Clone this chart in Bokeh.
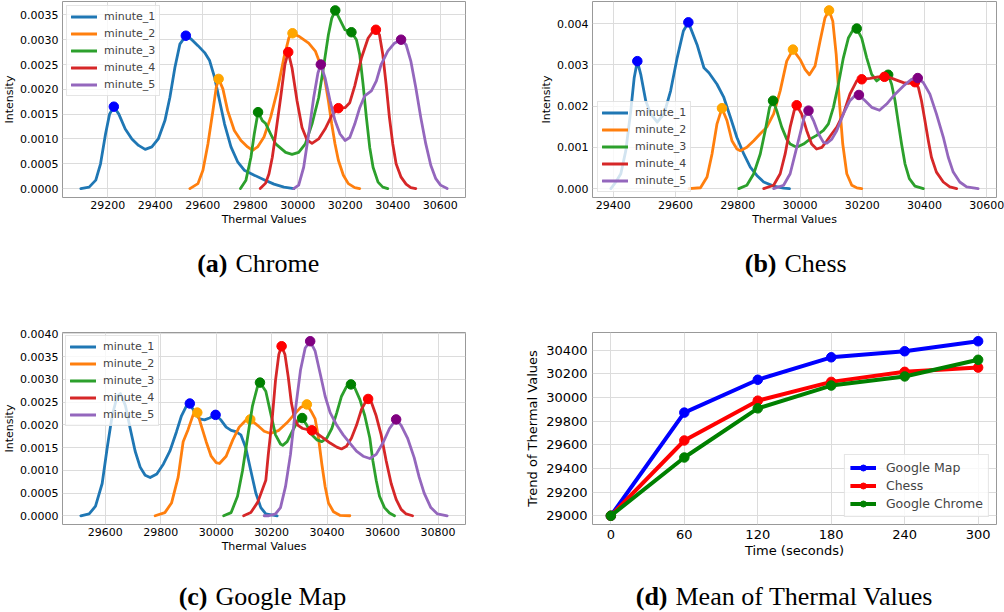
from bokeh.plotting import figure
from bokeh.models import Range1d, FixedTicker, NumeralTickFormatter, Legend, LegendItem
from bokeh.layouts import column, row
from bokeh.embed import file_html
from bokeh.resources import INLINE
from bokeh.core.properties import value

# ---------------- data ----------------
SERIES = ["minute_1", "minute_2", "minute_3", "minute_4", "minute_5"]

# (a) Chrome : KDE curves
a1_x = [29087, 29122, 29150, 29170, 29191, 29208, 29226, 29247, 29274, 29302, 29330, 29358, 29386, 29413, 29441, 29462, 29483, 29504, 29529, 29552, 29580, 29608, 29629, 29650, 29671, 29692, 29719, 29747, 29775, 29817, 29858, 29900, 29942, 29984]
a1_y = [0, 0.00003, 0.00017, 0.0005, 0.0011, 0.0015, 0.00165, 0.0015, 0.0012, 0.001, 0.00087, 0.00079, 0.00084, 0.001, 0.00137, 0.00184, 0.00244, 0.00291, 0.00308, 0.00301, 0.00288, 0.00274, 0.00258, 0.00224, 0.00177, 0.0013, 0.00084, 0.00054, 0.00037, 0.00027, 0.00018, 0.00009, 0.00003, 0]
a2_x = [29546, 29580, 29601, 29622, 29643, 29657, 29667, 29685, 29705, 29733, 29761, 29789, 29810, 29831, 29858, 29886, 29914, 29942, 29963, 29978, 30004, 30046, 30074, 30101, 30115, 30129, 30143, 30157, 30171, 30192, 30213, 30240, 30261]
a2_y = [0, 0.0001, 0.00037, 0.0009, 0.00157, 0.00204, 0.00221, 0.00201, 0.00157, 0.00117, 0.00097, 0.00084, 0.00077, 0.00084, 0.00104, 0.00144, 0.00197, 0.00264, 0.00304, 0.00313, 0.00307, 0.00293, 0.00277, 0.00243, 0.00217, 0.00177, 0.0013, 0.0009, 0.00057, 0.00027, 0.0001, 0.00002, 0]
a3_x = [29759, 29782, 29803, 29817, 29833, 29851, 29865, 29886, 29907, 29949, 29976, 30004, 30032, 30060, 30088, 30108, 30129, 30143, 30158, 30178, 30199, 30226, 30247, 30261, 30275, 30289, 30303, 30317, 30338, 30358, 30379]
a3_y = [0, 0.00017, 0.00063, 0.0011, 0.00154, 0.00137, 0.00131, 0.0011, 0.0009, 0.00073, 0.00069, 0.00073, 0.0009, 0.0013, 0.00183, 0.00243, 0.0031, 0.00343, 0.00359, 0.0034, 0.0032, 0.00315, 0.003, 0.0027, 0.0021, 0.00143, 0.00083, 0.00043, 0.00013, 0.00003, 0]
a4_x = [29842, 29865, 29879, 29893, 29907, 29928, 29946, 29960, 29976, 29997, 30018, 30039, 30060, 30088, 30115, 30143, 30171, 30199, 30219, 30240, 30268, 30296, 30317, 30329, 30344, 30358, 30372, 30386, 30400, 30414, 30435, 30456, 30476, 30497]
a4_y = [0, 0.00011, 0.0003, 0.00063, 0.0011, 0.00183, 0.0025, 0.00275, 0.00243, 0.00177, 0.00123, 0.00098, 0.00091, 0.001, 0.0012, 0.00147, 0.00162, 0.00163, 0.00173, 0.00207, 0.00263, 0.00303, 0.00317, 0.0032, 0.0031, 0.0027, 0.0021, 0.00143, 0.0009, 0.0005, 0.00023, 0.00009, 0.00002, 0]
a5_x = [29983, 30004, 30025, 30046, 30067, 30085, 30097, 30115, 30136, 30157, 30178, 30199, 30219, 30240, 30261, 30282, 30310, 30331, 30351, 30379, 30407, 30435, 30456, 30476, 30497, 30518, 30539, 30560, 30581, 30601, 30629]
a5_y = [0, 0.00007, 0.00043, 0.0011, 0.00183, 0.00233, 0.0025, 0.00223, 0.00177, 0.00137, 0.0011, 0.00097, 0.00103, 0.0013, 0.00163, 0.00187, 0.00197, 0.00217, 0.0025, 0.00277, 0.00293, 0.003, 0.0029, 0.00257, 0.00203, 0.00143, 0.0009, 0.00047, 0.0002, 0.00007, 0]
# (a) peaks
a1_px, a1_py = [29226, 29529], [0.00165, 0.00308]
a2_px, a2_py = [29667, 29978], [0.00221, 0.00313]
a3_px, a3_py = [29833, 30158, 30226], [0.00154, 0.00359, 0.00315]
a4_px, a4_py = [29960, 30171, 30329], [0.00275, 0.00162, 0.0032]
a5_px, a5_py = [30097, 30435], [0.0025, 0.003]

# (b) Chess : KDE curves
b1_x = [29392, 29408, 29424, 29440, 29456, 29467, 29477, 29488, 29504, 29520, 29541, 29563, 29584, 29605, 29625, 29641, 29669, 29691, 29707, 29733, 29755, 29776, 29797, 29819, 29840, 29861, 29883, 29915, 29947, 29966]
b1_y = [0, 0.00016, 0.00036, 0.00092, 0.00189, 0.00269, 0.00309, 0.00277, 0.00213, 0.00181, 0.00161, 0.00181, 0.00237, 0.00317, 0.00382, 0.00403, 0.00349, 0.00293, 0.00281, 0.00253, 0.00221, 0.00173, 0.00124, 0.00084, 0.00052, 0.00032, 0.00016, 0.00006, 0.00001, 0]
b2_x = [29643, 29680, 29701, 29717, 29733, 29749, 29765, 29781, 29797, 29808, 29829, 29851, 29872, 29893, 29915, 29936, 29957, 29977, 30000, 30016, 30030, 30048, 30064, 30080, 30093, 30105, 30116, 30126, 30137, 30150, 30166, 30182, 30198]
b2_y = [0, 0.00002, 0.00028, 0.00084, 0.00157, 0.00195, 0.00165, 0.00116, 0.00096, 0.00092, 0.001, 0.00116, 0.00133, 0.00149, 0.00181, 0.00237, 0.00309, 0.00337, 0.00313, 0.00289, 0.00276, 0.00297, 0.00357, 0.00414, 0.00432, 0.00406, 0.00325, 0.00213, 0.00108, 0.00036, 0.00008, 0.00002, 0]
b3_x = [29803, 29829, 29851, 29872, 29888, 29902, 29913, 29925, 29941, 29957, 29968, 29989, 30011, 30032, 30053, 30075, 30091, 30107, 30123, 30139, 30155, 30171, 30182, 30198, 30214, 30230, 30246, 30267, 30283, 30294, 30305, 30316, 30326, 30337, 30351, 30369, 30396]
b3_y = [0, 0.00008, 0.00036, 0.00084, 0.00141, 0.00197, 0.00213, 0.00189, 0.00149, 0.0012, 0.00108, 0.001, 0.00108, 0.0012, 0.00129, 0.00141, 0.00157, 0.00197, 0.00253, 0.00317, 0.00365, 0.00386, 0.00388, 0.00365, 0.00317, 0.00277, 0.00261, 0.00273, 0.00276, 0.00253, 0.00213, 0.00157, 0.00108, 0.0006, 0.00024, 0.00006, 0]
b4_x = [29883, 29915, 29936, 29952, 29968, 29981, 29989, 30005, 30021, 30037, 30053, 30070, 30086, 30102, 30118, 30139, 30160, 30182, 30198, 30225, 30251, 30271, 30289, 30310, 30332, 30348, 30369, 30380, 30390, 30401, 30412, 30422, 30438, 30460, 30481, 30503]
b4_y = [0, 0.00008, 0.00036, 0.00084, 0.00149, 0.00189, 0.00202, 0.00181, 0.00141, 0.00108, 0.00096, 0.001, 0.00116, 0.00133, 0.00149, 0.00181, 0.00229, 0.00261, 0.00265, 0.00267, 0.00271, 0.00271, 0.00269, 0.00263, 0.00257, 0.00255, 0.00258, 0.00245, 0.00213, 0.00165, 0.00116, 0.00076, 0.0004, 0.00016, 0.00004, 0]
b5_x = [29915, 29947, 29968, 29984, 30000, 30013, 30027, 30043, 30059, 30075, 30086, 30102, 30118, 30139, 30160, 30176, 30189, 30209, 30230, 30255, 30278, 30305, 30332, 30358, 30378, 30396, 30417, 30438, 30460, 30476, 30492, 30513, 30535, 30572]
b5_y = [0, 0.00008, 0.00036, 0.00084, 0.00133, 0.00173, 0.00189, 0.00165, 0.00133, 0.00112, 0.0011, 0.0012, 0.00141, 0.00181, 0.00213, 0.00225, 0.00227, 0.00213, 0.00197, 0.0019, 0.00205, 0.00229, 0.00249, 0.00265, 0.00268, 0.00257, 0.00229, 0.00181, 0.00125, 0.00076, 0.0004, 0.00016, 0.00004, 0]
# (b) peaks
b1_px, b1_py = [29477, 29641], [0.00309, 0.00403]
b2_px, b2_py = [29749, 29977, 30093], [0.00195, 0.00337, 0.00432]
b3_px, b3_py = [29913, 30182, 30283], [0.00213, 0.00388, 0.00276]
b4_px, b4_py = [29989, 30198, 30271, 30369], [0.00202, 0.00265, 0.00271, 0.00258]
b5_px, b5_py = [30027, 30189, 30378], [0.00189, 0.00227, 0.00268]

# (c) Google Map : KDE curves
c1_x = [29512, 29542, 29565, 29589, 29607, 29625, 29643, 29655, 29673, 29690, 29708, 29726, 29744, 29762, 29786, 29810, 29833, 29857, 29875, 29893, 29905, 29923, 29940, 29958, 29976, 29998, 30018, 30036, 30054, 30071, 30089, 30107, 30125, 30143, 30161, 30179, 30220]
c1_y = [0, 0.00004, 0.00021, 0.00071, 0.00149, 0.0022, 0.00263, 0.00269, 0.00242, 0.00192, 0.00142, 0.00107, 0.00089, 0.00084, 0.00092, 0.00114, 0.00142, 0.00185, 0.0022, 0.00242, 0.00247, 0.00227, 0.00213, 0.00211, 0.00215, 0.00222, 0.0021, 0.00195, 0.00188, 0.00185, 0.00178, 0.00149, 0.00099, 0.0005, 0.00018, 0.00004, 0]
c2_x = [29780, 29815, 29839, 29863, 29881, 29899, 29917, 29932, 29946, 29964, 29982, 30000, 30012, 30036, 30060, 30083, 30107, 30123, 30149, 30173, 30196, 30226, 30256, 30280, 30304, 30327, 30345, 30357, 30369, 30381, 30393, 30405, 30423, 30446, 30482]
c2_y = [0, 0.00007, 0.00028, 0.00085, 0.00163, 0.0019, 0.00222, 0.00227, 0.00199, 0.00163, 0.00131, 0.00117, 0.00115, 0.00131, 0.00167, 0.00195, 0.0021, 0.00212, 0.00199, 0.00186, 0.00181, 0.00188, 0.00205, 0.00222, 0.00238, 0.00245, 0.00227, 0.00213, 0.00171, 0.00114, 0.00064, 0.00028, 0.00009, 0.00001, 0]
c3_x = [30027, 30054, 30077, 30095, 30113, 30131, 30149, 30158, 30179, 30196, 30214, 30232, 30240, 30256, 30274, 30292, 30310, 30327, 30345, 30363, 30381, 30399, 30417, 30435, 30452, 30470, 30486, 30500, 30518, 30536, 30554, 30565, 30577, 30589, 30607, 30625, 30643]
c3_y = [0, 0.00007, 0.00043, 0.00099, 0.00171, 0.00242, 0.00284, 0.00293, 0.00274, 0.00227, 0.00178, 0.00158, 0.00155, 0.00163, 0.00185, 0.00206, 0.00215, 0.00199, 0.00178, 0.00167, 0.00163, 0.00171, 0.00192, 0.00227, 0.00263, 0.00284, 0.00289, 0.00281, 0.00256, 0.0022, 0.00171, 0.00121, 0.00078, 0.00043, 0.00018, 0.00006, 0]
c4_x = [30099, 30125, 30150, 30179, 30188, 30202, 30214, 30226, 30236, 30248, 30260, 30271, 30283, 30295, 30312, 30327, 30345, 30363, 30387, 30411, 30435, 30452, 30470, 30488, 30506, 30524, 30542, 30548, 30560, 30577, 30595, 30613, 30631, 30649, 30667, 30685, 30708]
c4_y = [0, 0.00007, 0.0003, 0.00078, 0.00135, 0.00213, 0.00298, 0.00355, 0.00373, 0.00355, 0.00305, 0.00249, 0.00213, 0.00199, 0.00192, 0.0019, 0.00188, 0.00181, 0.00171, 0.0016, 0.00151, 0.00147, 0.00153, 0.00171, 0.00199, 0.00234, 0.00254, 0.00257, 0.00249, 0.0022, 0.00178, 0.00121, 0.00071, 0.00036, 0.00014, 0.00004, 0]
c5_x = [30173, 30190, 30214, 30232, 30250, 30268, 30286, 30304, 30321, 30339, 30357, 30375, 30393, 30411, 30435, 30458, 30482, 30506, 30530, 30554, 30577, 30601, 30625, 30649, 30667, 30690, 30714, 30732, 30750, 30774, 30798, 30833]
c5_y = [0, 0, 0.00004, 0.00018, 0.00064, 0.00135, 0.00234, 0.0032, 0.00369, 0.00384, 0.00362, 0.00313, 0.00263, 0.00227, 0.00199, 0.00178, 0.0016, 0.00142, 0.00131, 0.00126, 0.00135, 0.0016, 0.00192, 0.00212, 0.00199, 0.00171, 0.00128, 0.00085, 0.0005, 0.00018, 0.00004, 0]
# (c) peaks
c1_px, c1_py = [29905, 29998], [0.00247, 0.00222]
c2_px, c2_py = [29932, 30123, 30327], [0.00227, 0.00212, 0.00245]
c3_px, c3_py = [30158, 30310, 30486], [0.00293, 0.00215, 0.00289]
c4_px, c4_py = [30236, 30345, 30548], [0.00373, 0.00188, 0.00257]
c5_px, c5_py = [30339, 30649], [0.00384, 0.00212]

# (d) Mean of thermal values
time_s = [0, 60, 120, 180, 240, 300]
google_map = [29000, 29873, 30151, 30341, 30392, 30477]
chess = [29000, 29637, 29974, 30133, 30218, 30254]
google_chrome = [29000, 29493, 29909, 30102, 30179, 30320]

ticks_a_x = [29200, 29400, 29600, 29800, 30000, 30200, 30400, 30600]
ticks_b_x = [29400, 29600, 29800, 30000, 30200, 30400, 30600]
ticks_c_x = [29600, 29800, 30000, 30200, 30400, 30600, 30800]
ticks_a_y = [0, 0.0005, 0.001, 0.0015, 0.002, 0.0025, 0.003, 0.0035]
ticks_b_y = [0, 0.001, 0.002, 0.003, 0.004]
ticks_c_y = [0, 0.0005, 0.001, 0.0015, 0.002, 0.0025, 0.003, 0.0035, 0.004]
ticks_d_x = [0, 60, 120, 180, 240, 300]
ticks_d_y = [29000, 29200, 29400, 29600, 29800, 30000, 30200, 30400]

captions = [("(a)", "Chrome"), ("(b)", "Chess"), ("(c)", "Google Map"), ("(d)", "Mean of Thermal Values")]

# ---------------- style ----------------
LINE_COLORS = ["#1f77b4", "#ff7f0e", "#2ca02c", "#d62728", "#9467bd"]
PEAK_COLORS = ["blue", "orange", "green", "red", "purple"]
FONT = "DejaVu Sans"
SERIF = "Liberation Serif"


def padded(vals):
    lo, hi = min(vals), max(vals)
    m = 0.05 * (hi - lo)
    return lo - m, hi + m


def style_axes(p, xlabel, ylabel, tick_fs, label_fs, xticks, yticks, yfmt, xfmt="0"):
    p.xaxis.axis_label = xlabel
    p.yaxis.axis_label = ylabel
    p.xaxis.ticker = FixedTicker(ticks=xticks)
    p.yaxis.ticker = FixedTicker(ticks=yticks)
    p.xaxis.formatter = NumeralTickFormatter(format=xfmt)
    p.yaxis.formatter = NumeralTickFormatter(format=yfmt)
    for ax in (p.xaxis, p.yaxis):
        ax.axis_line_color = None
        ax.major_tick_line_color = None
        ax.minor_tick_line_color = None
        ax.major_tick_out = 0
        ax.major_tick_in = 0
        ax.major_label_text_font = FONT
        ax.major_label_text_font_size = tick_fs
        ax.major_label_text_color = "#000000"
        ax.axis_label_text_font = FONT
        ax.axis_label_text_font_size = label_fs
        ax.axis_label_text_font_style = "normal"
        ax.axis_label_text_color = "#000000"
        ax.axis_label_standoff = 1
    p.xaxis.major_label_standoff = 3
    p.yaxis.major_label_standoff = 4
    p.grid.grid_line_color = "#dcdcdc"
    p.grid.grid_line_width = 1
    p.outline_line_color = "#999999"
    p.outline_line_width = 1
    p.background_fill_color = "white"
    p.border_fill_color = "white"


def kde_panel(curves, peaks, width, height, borders, xticks, yticks, yfmt, legend_loc, legend_margin):
    all_x = [v for c in curves for v in c[0]]
    all_y = [v for c in curves for v in c[1]]
    x0, x1 = padded(all_x)
    y0, y1 = padded(all_y)
    left, right, top, bottom = borders
    p = figure(width=width, height=height, x_range=Range1d(x0, x1), y_range=Range1d(y0, y1),
               output_backend="svg", toolbar_location=None,
               min_border_left=left, min_border_right=right, min_border_top=top, min_border_bottom=bottom)
    items = []
    for (xs, ys), (px, py), name, lc, pc in zip(curves, peaks, SERIES, LINE_COLORS, PEAK_COLORS):
        r = p.line(xs, ys, line_color=lc, line_width=2.8, line_join="round", line_cap="round")
        p.scatter(px, py, size=9.5, fill_color=pc, line_color=pc)
        items.append(LegendItem(label=name, renderers=[r]))
    leg = Legend(items=items, location=legend_loc)
    leg.label_text_font = FONT
    leg.label_text_font_size = "11px"
    leg.glyph_width = 26
    leg.glyph_height = 13
    leg.label_height = 13
    leg.label_standoff = 7
    leg.spacing = 4
    leg.padding = 4
    leg.margin = legend_margin
    leg.border_line_color = "#cccccc"
    leg.background_fill_alpha = 0.8
    p.add_layout(leg)
    style_axes(p, "Thermal Values", "Intensity", "11px", "11px", xticks, yticks, yfmt)
    return p


fa = kde_panel([(a1_x, a1_y), (a2_x, a2_y), (a3_x, a3_y), (a4_x, a4_y), (a5_x, a5_y)],
               [(a1_px, a1_py), (a2_px, a2_py), (a3_px, a3_py), (a4_px, a4_py), (a5_px, a5_py)],
               500, 228, (62, 35, 1, 30), ticks_a_x, ticks_a_y, "0.0000", "top_left", 4)
fb = kde_panel([(b1_x, b1_y), (b2_x, b2_y), (b3_x, b3_y), (b4_x, b4_y), (b5_x, b5_y)],
               [(b1_px, b1_py), (b2_px, b2_py), (b3_px, b3_py), (b4_px, b4_py), (b5_px, b5_py)],
               504, 228, (92, 8, 1, 30), ticks_b_x, ticks_b_y, "0.000", "bottom_left", 5)
fc = kde_panel([(c1_x, c1_y), (c2_x, c2_y), (c3_x, c3_y), (c4_x, c4_y), (c5_x, c5_y)],
               [(c1_px, c1_py), (c2_px, c2_py), (c3_px, c3_py), (c4_px, c4_py), (c5_px, c5_py)],
               500, 270, (62, 35, 42, 31), ticks_c_x, ticks_c_y, "0.0000", "top_left", 3)

# (d)
dx0, dx1 = padded(time_s)
dy0, dy1 = padded(google_map + chess + google_chrome)
fd = figure(width=504, height=270, x_range=Range1d(dx0, dx1), y_range=Range1d(dy0, dy1),
            output_backend="svg", toolbar_location=None,
            min_border_left=92, min_border_right=8, min_border_top=26, min_border_bottom=32)
d_items = []
for name, vals, col in [("Google Map", google_map, "blue"), ("Chess", chess, "red"), ("Google Chrome", google_chrome, "green")]:
    rl = fd.line(time_s, vals, line_color=col, line_width=4, line_join="round")
    rs = fd.scatter(time_s, vals, size=9.5, fill_color=col, line_color=col)
    d_items.append(LegendItem(label=name, renderers=[rl, rs]))
dleg = Legend(items=d_items, location="bottom_right")
dleg.label_text_font = FONT
dleg.label_text_font_size = "12.5px"
dleg.glyph_width = 26
dleg.glyph_height = 15
dleg.label_height = 15
dleg.label_standoff = 10
dleg.spacing = 3
dleg.padding = 5
dleg.margin = 7
dleg.border_line_color = "#cccccc"
dleg.background_fill_alpha = 0.8
fd.add_layout(dleg)
style_axes(fd, "Time (seconds)", "Trend of Thermal Values", "13px", "13px", ticks_d_x, ticks_d_y, "0")
fd.xaxis.major_label_standoff = 5
fd.yaxis.major_label_standoff = 5
fd.yaxis.axis_label_standoff = 3


def caption_fig(height, ypos, specs):
    p = figure(width=1004, height=height, x_range=Range1d(0, 1004), y_range=Range1d(height, 0),
               output_backend="svg", toolbar_location=None, x_axis_type=None, y_axis_type=None,
               min_border=0, min_border_left=0, min_border_right=0, min_border_top=0, min_border_bottom=0)
    p.outline_line_color = None
    p.grid.visible = False
    for (tag, name), anchor in specs:
        p.text(x=[anchor], y=[ypos], text=[tag], text_font=value(SERIF), text_font_style="bold",
               text_font_size="26px", text_align="right", text_baseline="middle", text_color="black")
        p.text(x=[anchor + 8], y=[ypos], text=[name], text_font=value(SERIF), text_font_style="normal",
               text_font_size="26px", text_align="left", text_baseline="middle", text_color="black")
    return p


cap1 = caption_fig(62, 35, [(captions[0], 227), (captions[1], 776)])
cap2 = caption_fig(52, 36, [(captions[2], 207), (captions[3], 667)])

layout = column(row(fa, fb), cap1, row(fc, fd), cap2)
open("out.html", "w").write(file_html(layout, INLINE))
